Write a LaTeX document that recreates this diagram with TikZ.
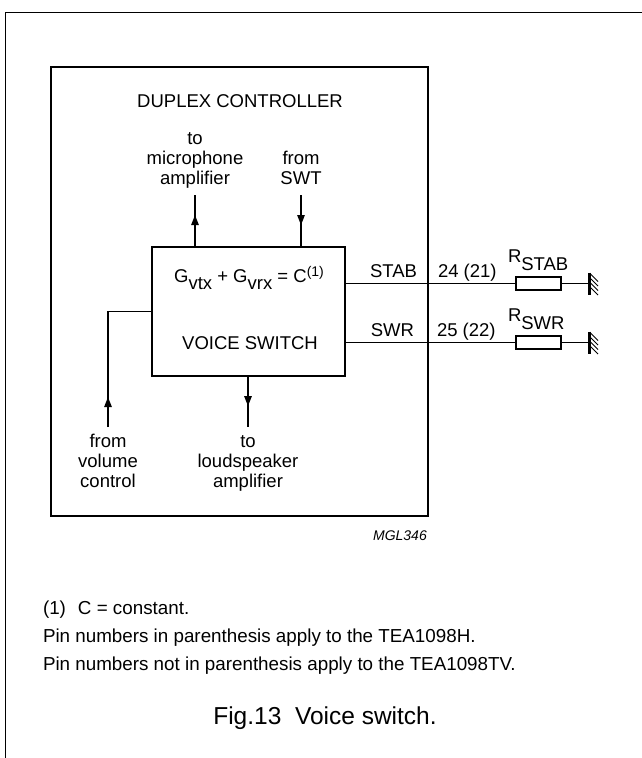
\documentclass[tikz,border=0pt]{standalone}
\usepackage{fontspec}
\setmainfont{Liberation Sans}
\usetikzlibrary{arrows.meta,decorations.markings}
\newcommand\lblfont{\fontsize{18.5bp}{20bp}\selectfont}
\newcommand\notefont{\fontsize{18.8bp}{20bp}\selectfont}
\begin{document}
\begin{tikzpicture}[x=1bp,y=-1bp,
  lbl/.style={inner sep=0pt,outer sep=0pt,font=\lblfont,align=center,anchor=base},
  note/.style={inner sep=0pt,outer sep=0pt,font=\notefont,anchor=base west},
  thinline/.style={line width=1.3bp},
  boxline/.style={draw,line width=2.5bp,inner sep=0pt,outer sep=0pt},
  resistor/.style={draw,line width=1.3bp,inner sep=0pt,outer sep=0pt,minimum width=45bp,minimum height=13bp},
  tip/.style={postaction={decorate},decoration={markings,mark=at position #1 with {\arrow{Triangle[length=10bp,width=7.5bp]}}}},
  hatch/.style={line width=0.9bp},
  gndbar/.style={line width=3bp},
]
\useasboundingbox (0,0) rectangle (642,758);
% outer frame (top and left edges)
\draw[line width=1.8bp] (5.5,758) -- (5.5,12.5) -- (642,12.5);

% duplex controller box
\node[boxline,minimum width=377bp,minimum height=449bp] (dc) at (239.5,291.5) {};
\node[lbl] (dctitle) at (240,107) {DUPLEX CONTROLLER};

% voice switch box
\node[boxline,minimum width=193bp,minimum height=129bp] (vs) at (248.5,311.5) {};
\node[lbl] (formula) at (249,282) {G\raisebox{-7bp}{vtx} + G\raisebox{-7bp}{vrx} = C\raisebox{6bp}{\fontsize{14bp}{14bp}\selectfont(1)}};
\node[lbl] (vslabel) at (250,349) {VOICE SWITCH};

% top labels and connectors (base = baseline of last line)
\node[lbl] (mic) at (195,184) {to\\microphone\\amplifier};
\node[lbl] (swt) at (301,184) {from\\SWT};
\coordinate (micend) at (195,195);
\coordinate (swtend) at (301,195);
\draw[thinline,tip=0.615] (vs.north -| micend) -- (micend);
\draw[thinline,tip=0.577] (swtend) -- (vs.north -| swtend);

% bottom labels and connectors
\node[lbl] (vol) at (108,487) {from\\volume\\control};
\node[lbl] (ls) at (248,487) {to\\loudspeaker\\amplifier};
\coordinate (volend) at (108,427);
\coordinate (lsend) at (248,427);
\draw[thinline,tip=0.1875] (volend) |- (vs.west);
\draw[thinline,tip=0.59] (vs.south -| lsend) -- (lsend);

% STAB branch
\node[resistor] (rstab) at (538.5,283.5) {};
\coordinate (gstab) at (589,283.5);
\draw[thinline] (vs.east |- rstab.west) -- (rstab.west);
\draw[thinline] (rstab.east) -- (gstab);
\draw[gndbar] (gstab) ++(0,-11) -- ++(0,22);
\foreach \d in {-10,-5.5,-1,3.5}{\draw[hatch] (gstab) ++(1,\d) -- ++(8,8);}
\node[lbl,anchor=base east] (stabl) at (417,277) {STAB};
\node[lbl,anchor=base west] (stabpin) at (438,277) {24 (21)};
\node[lbl,anchor=base west] (rstabl) at (508,262) {R\raisebox{-8bp}{STAB}};

% SWR branch
\node[resistor] (rswr) at (538.5,342.5) {};
\coordinate (gswr) at (589,342.5);
\draw[thinline] (vs.east |- rswr.west) -- (rswr.west);
\draw[thinline] (rswr.east) -- (gswr);
\draw[gndbar] (gswr) ++(0,-11) -- ++(0,22);
\foreach \d in {-10,-5.5,-1,3.5}{\draw[hatch] (gswr) ++(1,\d) -- ++(8,8);}
\node[lbl,anchor=base east] (swrl) at (414,336) {SWR};
\node[lbl,anchor=base west] (swrpin) at (437,336) {25 (22)};
\node[lbl,anchor=base west] (rswrl) at (508,321) {R\raisebox{-8bp}{SWR}};

% figure code
\node[inner sep=0pt,anchor=base east,font=\fontsize{14bp}{14bp}\selectfont\itshape] (mgl) at (427,540) {MGL346};

% notes
\node[note] (note1) at (43,614) {(1)\hspace{12bp}C = constant.};
\node[note] (note2) at (43,642) {Pin numbers in parenthesis apply to the TEA1098H.};
\node[note] (note3) at (43,670) {Pin numbers not in parenthesis apply to the TEA1098TV.};
\node[inner sep=0pt,anchor=base,font=\fontsize{24.5bp}{26bp}\selectfont] (cap) at (325,724) {Fig.13~~Voice switch.};
\end{tikzpicture}
\end{document}
